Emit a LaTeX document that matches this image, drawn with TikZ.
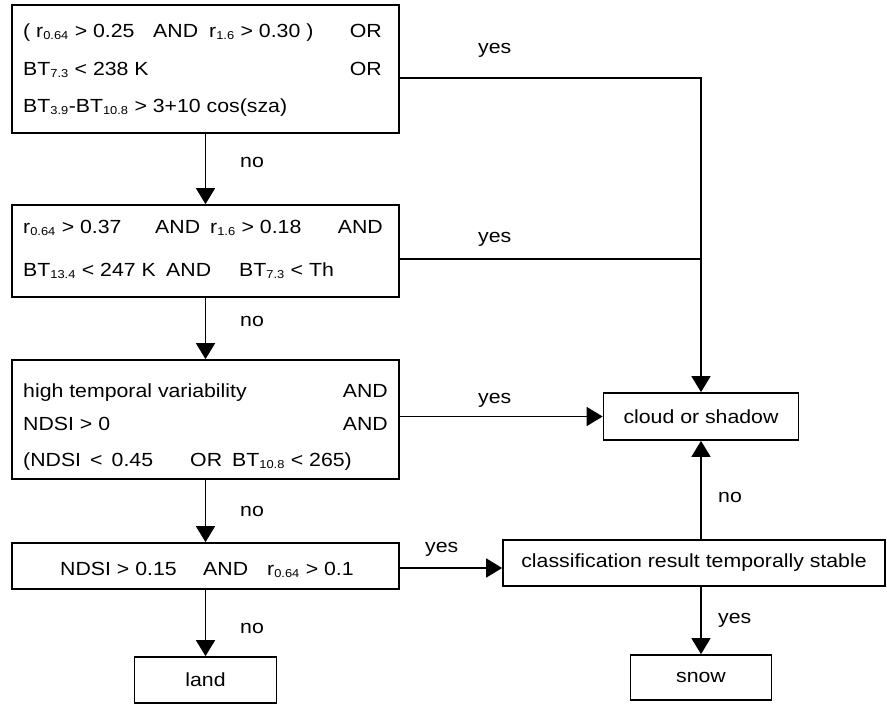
\documentclass[tikz,border=0pt]{standalone}
\usepackage{fontspec}
\setmainfont{Liberation Sans}[FakeStretch=1.12]
\usetikzlibrary{arrows.meta}
\newcommand\sbs[1]{\textsubscript{\fontsize{11.5}{12}\selectfont #1}}
\tikzset{
  box/.style={draw,line width=1.7pt,inner sep=0pt},
  arr/.style={line width=1.5pt,-{Triangle[length=16pt,width=19pt]}},
  lnk/.style={line width=1.5pt},
  txt/.style={anchor=base west,inner sep=0pt},
  rtxt/.style={anchor=base east,inner sep=0pt}
}

\begin{document}
\begin{tikzpicture}[x=1pt,y=-1pt,font=\fontsize{19}{23}\selectfont]
  \useasboundingbox (0,0) rectangle (887,704);
  % test boxes, left column
  \node[box,minimum width=387pt,minimum height=128pt] (c1) at (205.5,69) {};
  \node[box,minimum width=387pt,minimum height=92pt]  (c2) at (205.5,251) {};
  \node[box,minimum width=387pt,minimum height=119pt] (c3) at (205.5,419.5) {};
  \node[box,minimum width=387pt,minimum height=46pt]  (c4) at (205.5,566) {};
  \node[box,minimum width=142pt,minimum height=46pt]  (land) at (205.5,680) {land};
  % right column
  \node[box,minimum width=195pt,minimum height=47pt]  (cloud) at (701,416.5) {cloud or shadow};
  \node[box,minimum width=382pt,minimum height=46pt]  (stable) at (694,563) {classification result temporally stable};
  \node[box,minimum width=141pt,minimum height=45pt]  (snow) at (701,677.5) {snow};
  % box 1
  \node[txt]  (r1a) at (23,37) {( r\sbs{0.64} > 0.25};
  \node[txt]  (r1b) at (153,37) {AND};
  \node[txt]  (r1c) at (209,37) {r\sbs{1.6} > 0.30 )};
  \node[rtxt] (r1d) at (382,37) {OR};
  \node[txt]  (r2a) at (23,75) {BT\sbs{7.3} < 238 K};
  \node[rtxt] (r2b) at (382,75) {OR};
  \node[txt]  (r3a) at (23,112) {BT\sbs{3.9}-BT\sbs{10.8} > 3+10 cos(sza)};
  % box 2
  \node[txt]  (s1a) at (23,233) {r\sbs{0.64} > 0.37};
  \node[txt]  (s1b) at (155,233) {AND};
  \node[txt]  (s1c) at (210,233) {r\sbs{1.6} > 0.18};
  \node[rtxt] (s1d) at (383,233) {AND};
  \node[txt]  (s2a) at (23,276) {BT\sbs{13.4} < 247 K};
  \node[txt]  (s2b) at (166,276) {AND};
  \node[txt]  (s2c) at (239,276) {BT\sbs{7.3} < Th};
  % box 3
  \node[txt]  (v1a) at (23,397) {high temporal variability};
  \node[rtxt] (v1b) at (388,397) {AND};
  \node[txt]  (v2a) at (23,430) {NDSI > 0};
  \node[rtxt] (v2b) at (388,430) {AND};
  \node[txt]  (v3a) at (23,466) {(NDSI \,<\, 0.45};
  \node[txt]  (v3b) at (190,466) {OR};
  \node[txt]  (v3c) at (232,466) {BT\sbs{10.8} < 265)};
  % box 4
  \node[txt]  (n1a) at (60,575) {NDSI > 0.15};
  \node[txt]  (n1b) at (203,575) {AND};
  \node[txt]  (n1c) at (267,575) {r\sbs{0.64} > 0.1};
  % connectors
  \coordinate (j1) at ([yshift=-9pt]c1.east);
  \coordinate (j2) at ([yshift=-8pt]c2.east);
  \coordinate (j3) at (c3.east |- cloud.west);
  \coordinate (j4) at ([yshift=-2pt]c4.east);
  \draw[arr] (j1) -| (cloud.north);
  \draw[lnk] (j2) -- (j2 -| cloud.north);
  \draw[arr] (j3) -- (cloud.west);
  \draw[arr] (j4) -- (j4 -| stable.west);
  \draw[arr] (c1.south) -- (c2.north);
  \draw[arr] (c2.south) -- (c3.north);
  \draw[arr] (c3.south) -- (c4.north);
  \draw[arr] (c4.south) -- (land.north);
  \draw[arr] (stable.north -| cloud.south) -- (cloud.south);
  \draw[arr] (stable.south -| snow.north) -- (snow.north);
  % labels
  \node[txt] (yes1) at (478,53) {yes};
  \node[txt] (yes2) at (478,242) {yes};
  \node[txt] (yes3) at (478,403) {yes};
  \node[txt] (yes4) at (425,552) {yes};
  \node[txt] (yes5) at (718,623) {yes};
  \node[txt] (no1) at (240,167) {no};
  \node[txt] (no2) at (240,326) {no};
  \node[txt] (no3) at (240,516) {no};
  \node[txt] (no4) at (240,633) {no};
  \node[txt] (no5) at (718,502) {no};
\end{tikzpicture}
\end{document}
